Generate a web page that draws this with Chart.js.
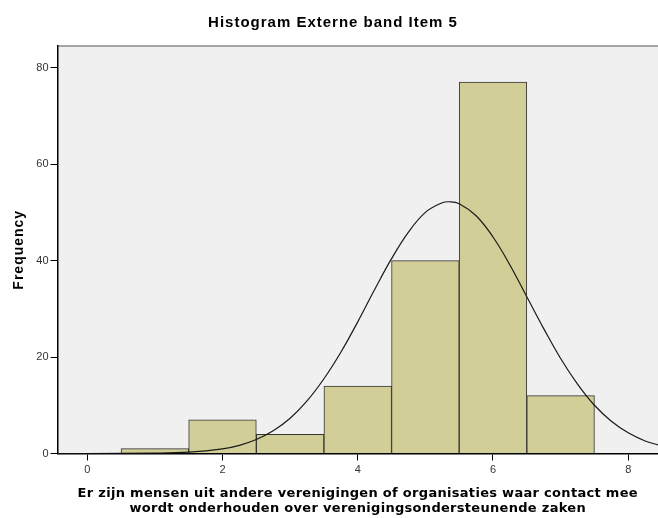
<!DOCTYPE html>
<html>
<head>
<meta charset="utf-8">
<script src="https://cdn.jsdelivr.net/npm/chart.js@4/dist/chart.umd.min.js"></script>
<style>
  html, body { margin: 0; padding: 0; background: #fff; }
  #wrap { width: 658px; height: 518px; position: relative; }
</style>
</head>
<body>
<div id="wrap"><canvas id="histChart"></canvas></div>
<script>
// histogram bins (midpoints) and frequencies
const binCenters = [1, 2, 3, 4, 5, 6, 7];
const frequencies = [1, 7, 4, 14, 40, 77, 12];

// normal curve
const curveX = [-0.44, 0, 1, 1.5, 2, 2.25, 2.5, 2.75, 3, 3.25, 3.5, 3.75, 4, 4.25, 4.5, 4.75, 5, 5.25, 5.35, 5.5, 5.75, 6, 6.25, 6.5, 6.75, 7, 7.25, 7.5, 7.75, 8, 8.25, 8.44];
const curveY = [0, 0, 0.06, 0.27, 0.96, 1.7, 2.9, 4.7, 7.3, 10.9, 15.5, 21.0, 27.3, 34.0, 40.4, 45.9, 50.0, 52.0, 52.2, 51.8, 49.3, 44.9, 39.1, 32.5, 25.9, 19.7, 14.4, 10.0, 6.7, 4.3, 2.6, 1.8];

const xTicks = [0, 2, 4, 6, 8];
const yTicks = [0, 20, 40, 60, 80];

const chartTitle = 'Histogram Externe band Item 5';
const xTitle = ['Er zijn mensen uit andere verenigingen of organisaties waar contact mee', 'wordt onderhouden over verenigingsondersteunende zaken'];
const yTitle = 'Frequency';

// plot background plus the titles (drawn here so letter spacing can match)
const plotDecor = {
    id: 'plotDecor',
    beforeDraw(chart) {
        const { ctx, chartArea } = chart;
        ctx.save();
        ctx.fillStyle = '#f0f0f0';
        ctx.fillRect(chartArea.left, chartArea.top, chartArea.right - chartArea.left, chartArea.bottom - chartArea.top);
        ctx.strokeStyle = '#8a8a8a';
        ctx.lineWidth = 1.5;
        ctx.beginPath();
        ctx.moveTo(chartArea.left, chartArea.top);
        ctx.lineTo(chartArea.right, chartArea.top);
        ctx.stroke();
        ctx.restore();
    },
    afterDraw(chart) {
        const { ctx, chartArea } = chart;
        const midX = (chartArea.left + chartArea.right) / 2;
        const midY = (chartArea.top + chartArea.bottom) / 2;
        ctx.save();
        ctx.fillStyle = '#000';
        ctx.textAlign = 'center';
        ctx.textBaseline = 'middle';
        ctx.letterSpacing = '1px';
        ctx.font = 'bold 15px "Liberation Sans", Arial, sans-serif';
        ctx.fillText(chartTitle, 333, 23);

        ctx.letterSpacing = '0.3px';
        ctx.font = 'bold 13px "DejaVu Sans", Verdana, sans-serif';
        ctx.fillText(xTitle[0], midX, 494);
        ctx.fillText(xTitle[1], midX, 509);

        ctx.letterSpacing = '1px';
        ctx.font = 'bold 14px "Liberation Sans", Arial, sans-serif';
        ctx.translate(19, midY);
        ctx.rotate(-Math.PI / 2);
        ctx.fillText(yTitle, 0, 0);
        ctx.restore();
    }
};

const bars = binCenters.map((x, i) => ({ x: x, y: frequencies[i] }));
const curve = curveX.map((x, i) => ({ x: x, y: curveY[i] }));

const ctx = document.getElementById('histChart').getContext('2d');
new Chart(ctx, {
    data: {
        datasets: [{
            type: 'line',
            data: curve,
            borderColor: '#1a1a1a',
            borderWidth: 1.2,
            pointRadius: 0,
            tension: 0.4,
            fill: false,
            order: 0
        }, {
            type: 'bar',
            data: bars,
            backgroundColor: '#d2ce97',
            borderColor: '#333',
            borderWidth: 1,
            barPercentage: 1,
            categoryPercentage: 1,
            grouped: false,
            order: 1
        }]
    },
    options: {
        responsive: true,
        maintainAspectRatio: false,
        animation: false,
        layout: { padding: { top: 46, left: 0, right: 0, bottom: 0 } },
        plugins: {
            legend: { display: false },
            tooltip: { enabled: false }
        },
        scales: {
            x: {
                type: 'linear',
                offset: false,
                min: -0.44,
                max: 8.44,
                afterBuildTicks(scale) { scale.ticks = xTicks.map(v => ({ value: v })); },
                afterFit(scale) { scale.height = 64.5; },
                grid: { display: true, offset: false, drawOnChartArea: false, drawTicks: true, tickLength: 7, color: '#000', lineWidth: 1 },
                border: { display: true, color: '#000', width: 1.5 },
                ticks: { color: '#333', font: { family: '"Liberation Sans", Arial, sans-serif', size: 11 }, padding: 3, maxRotation: 0 }
            },
            y: {
                type: 'linear',
                min: 0,
                max: 84.5,
                afterBuildTicks(scale) { scale.ticks = yTicks.map(v => ({ value: v })); },
                afterFit(scale) { scale.width = 57.5; },
                grid: { display: true, drawOnChartArea: false, drawTicks: true, tickLength: 7, color: '#000', lineWidth: 1 },
                border: { display: true, color: '#000', width: 1.5 },
                ticks: { color: '#333', font: { family: '"Liberation Sans", Arial, sans-serif', size: 11 }, padding: 2 }
            }
        }
    },
    plugins: [plotDecor]
});
</script>
</body>
</html>
